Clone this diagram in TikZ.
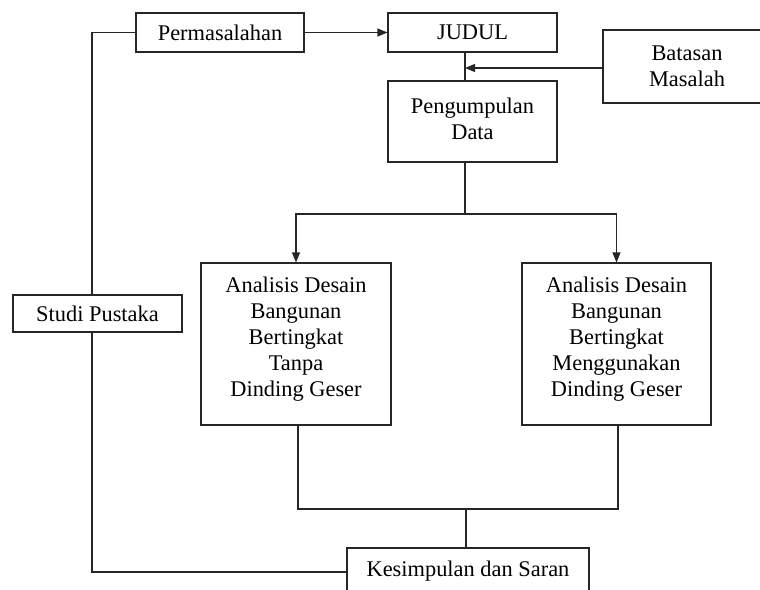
\documentclass[tikz,border=0pt]{standalone}
\usepackage{fontspec}
\setmainfont{Liberation Serif}
\usetikzlibrary{arrows.meta,calc}
\begin{document}
\begin{tikzpicture}[x=1pt,y=-1pt,
  box/.style={draw=black!85, line width=1.1pt, fill=white, inner sep=0pt, align=center,
    font=\fontsize{22.4}{26}\selectfont},
  txt/.style={inner sep=0pt, align=center, font=\fontsize{22.4}{26}\selectfont},
  conn/.style={draw=black!85, line width=1.1pt},
  arr/.style={conn, -{Triangle[length=10pt,width=8pt]}}]
\useasboundingbox (0,0) rectangle (760,589);
% nodes
\node[box, minimum width=168pt, minimum height=39pt] (perm) at (220,32.5) {Permasalahan};
\node[box, minimum width=169pt, minimum height=39pt] (judul) at (472.5,32.5) {JUDUL};
\node[box, minimum width=168pt, minimum height=73pt] (batasan) at (687,66.5) {Batasan\\Masalah};
\node[box, minimum width=169pt, minimum height=81pt] (peng) at (472.5,121.5) {};
\node[txt] (pengtext) at ($(peng.center)+(0,-3)$) {Pengumpulan\\Data};
\node[box, minimum width=190pt, minimum height=162pt] (left) at (296,344) {};
\node[txt] (lefttext) at ($(left.center)+(0,-5)$) {Analisis Desain\\Bangunan\\Bertingkat\\Tanpa\\Dinding Geser};
\node[box, minimum width=189pt, minimum height=162pt] (right) at (616.5,344) {};
\node[txt] (righttext) at ($(right.center)+(0,-5)$) {Analisis Desain\\Bangunan\\Bertingkat\\Menggunakan\\Dinding Geser};
\node[box, minimum width=242pt, minimum height=46pt] (kes) at (468,571) {Kesimpulan dan Saran};
% coordinates
\coordinate (jx) at (465,68);
\coordinate (split) at (465,214);
\coordinate (merge) at (466,509);
\coordinate (lt) at (92,32.5);
\coordinate (lb) at (92,572);
% connectors
\draw[arr] (perm.east) -- (judul.west);
\draw[conn] (judul.south -| jx) -- (peng.north -| jx);
\draw[arr] (batasan.west |- jx) -- (jx);
\draw[conn] (peng.south -| split) -- (split);
\draw[arr] (split) -| (left.north);
\draw[arr] (split) -| (right.north);
\draw[conn] ($(left.south)+(2,0)$) |- (merge);
\draw[conn] ($(right.south)+(1.5,0)$) |- (merge);
\draw[conn] (merge) -- (kes.north -| merge);
\draw[conn] (perm.west) -- (lt) -- (lb) -- (lb -| kes.west);
\node[box, minimum width=169pt, minimum height=37pt] (studi) at (97.5,313.5) {Studi Pustaka};
\end{tikzpicture}
\end{document}
